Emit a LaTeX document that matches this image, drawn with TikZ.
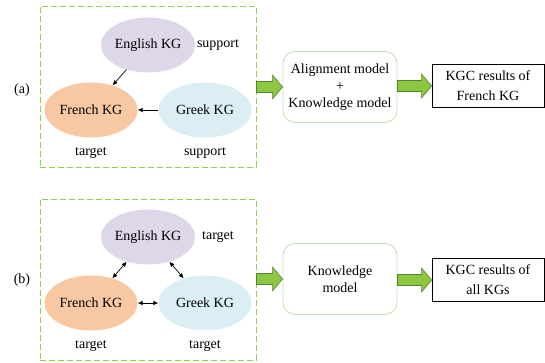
\documentclass[tikz,border=0pt]{standalone}
\usepackage{fontspec}
\setmainfont{Liberation Serif}
\usetikzlibrary{calc}
\usetikzlibrary{arrows.meta}
\usetikzlibrary{positioning}
\usetikzlibrary{shapes.geometric}
\definecolor{kgPurple}{RGB}{222,214,233}
\definecolor{kgOrange}{RGB}{248,200,163}
\definecolor{kgBlue}{RGB}{218,238,243}
\definecolor{frameGreen}{RGB}{146,208,80}
\definecolor{modelGreen}{RGB}{197,224,180}
\definecolor{arrowFill}{RGB}{141,198,63}
\definecolor{arrowDraw}{RGB}{84,130,53}
\tikzset{%
	>={Latex[width=4.5pt,length=5pt]},
	% Specifications for style of nodes:
	base/.style = {font=\fontsize{14}{17}\selectfont, align=center,
				   inner sep=0pt, on grid},
	kg/.style = {base, ellipse, minimum width=93pt, minimum height=55pt},
	english/.style = {kg, fill=kgPurple},
	french/.style = {kg, fill=kgOrange},
	greek/.style = {kg, fill=kgBlue},
	tag/.style = {base},
	frame/.style = {draw=frameGreen, dash pattern=on 6pt off 3pt, line width=0.9pt,
					minimum width=216pt, minimum height=161pt},
	model/.style = {base, draw=modelGreen, rounded corners=12pt, line width=0.9pt,
					minimum width=114pt, minimum height=71pt},
	result/.style = {base, draw=black, line width=0.8pt, minimum width=112pt,
					 minimum height=43pt, font=\fontsize{14}{20}\selectfont},
	link/.style = {->, line width=0.7pt},
	biLink/.style = {<->, line width=0.7pt},
	blockarrow/.style = {fill=arrowFill, draw=arrowDraw, line width=0.6pt,
		to path={let \p1=(\tikztostart), \p2=(\tikztotarget) in
			(\x1,\y2+5.5pt) -- (\x2-10pt,\y2+5.5pt) -- (\x2-10pt,\y2+12pt) -- (\x2,\y2)
			-- (\x2-10pt,\y2-12pt) -- (\x2-10pt,\y2-5.5pt) -- (\x1,\y2-5.5pt) -- cycle}},
}
\begin{document}
\begin{tikzpicture}[x=1pt, y=1pt]
	\useasboundingbox (0,0) rectangle (545,362);

	% (a) one target KG with support KGs
	\node (frameA)   [frame] at (148,275.5) {};
	\node (englishA) [english] at (148,317) {English KG};
	\node (frenchA)  [french, below left=65pt and 57pt of englishA] {French KG};
	\node (greekA)   [greek, right=114pt of frenchA] {Greek KG};
	\node (supportEnA) [tag, right=70pt of englishA] {support};
	\node (targetFrA)  [tag, below=43pt of frenchA] {target};
	\node (supportGrA) [tag, below=43pt of greekA] {support};
	\node (labelA)   [tag] at (22,272) {(a)};
	\node (alignA)   [model] at (340,275) {Alignment model\\+\\Knowledge model};
	\node (resultA)  [result] at (488,276) {KGC results of\\French KG};

	\draw[link]       (englishA) -- (frenchA);
	\draw[link]       (greekA) -- (frenchA);
	\draw[blockarrow] (frameA.east) to (alignA.west);
	\draw[blockarrow] (alignA.east) to (resultA.west);

	% (b) all KGs are targets
	\node (frameB)   [frame] at (148,82.5) {};
	\node (englishB) [english] at (148,125) {English KG};
	\node (frenchB)  [french, below left=66pt and 57pt of englishB] {French KG};
	\node (greekB)   [greek, right=114pt of frenchB] {Greek KG};
	\node (targetEnB) [tag, right=70pt of englishB] {target};
	\node (targetFrB) [tag, below=43pt of frenchB] {target};
	\node (targetGrB) [tag, below=43pt of greekB] {target};
	\node (labelB)   [tag] at (22,82) {(b)};
	\node (knowB)    [model] at (340,83) {Knowledge\\model};
	\node (resultB)  [result] at (488,82) {KGC results of\\all KGs};

	\draw[biLink]     (englishB) -- (frenchB);
	\draw[biLink]     (englishB) -- (greekB);
	\draw[biLink]     (frenchB) -- (greekB);
	\draw[blockarrow] (frameB.east) to (knowB.west);
	\draw[blockarrow] (knowB.east) to (resultB.west);

\end{tikzpicture}
\end{document}
